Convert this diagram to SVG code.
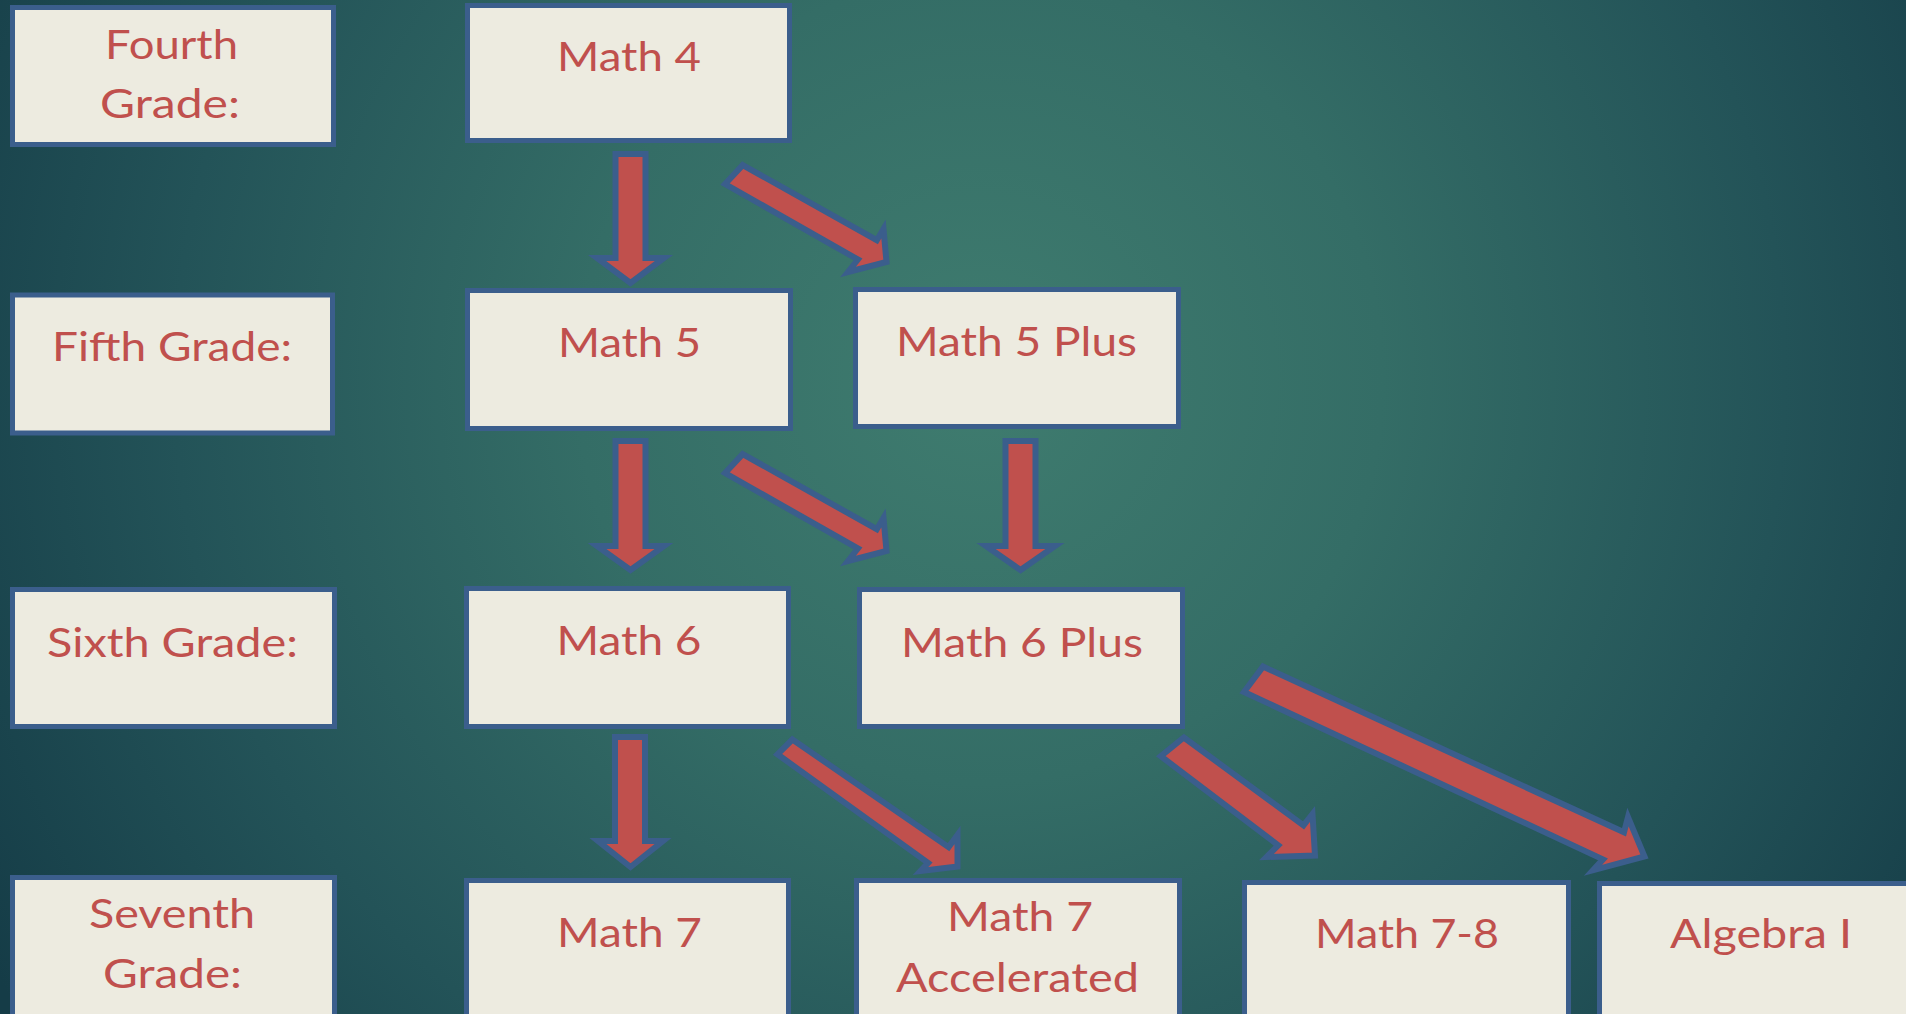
<svg xmlns="http://www.w3.org/2000/svg" width="1906" height="1014" viewBox="0 0 1906 1014">
<defs>
<radialGradient id="bg" gradientUnits="userSpaceOnUse" cx="980" cy="380" r="1150">
<stop offset="0" stop-color="#3F7C6F"/>
<stop offset="0.35" stop-color="#346D66"/>
<stop offset="0.7" stop-color="#235358"/>
<stop offset="1" stop-color="#153C47"/>
</radialGradient>
<style>
.box{fill:#EDEBE0;stroke:#3B5E8C;stroke-width:5}
.t{font-family:Lato,"Open Sans","Liberation Sans",sans-serif;font-size:40px;fill:#C0504D}
.arr{fill:#C0504D;stroke:#3B5E8C;stroke-width:6;stroke-linejoin:miter}
</style>
</defs>
<rect x="0" y="0" width="1906" height="1014" fill="url(#bg)"/>

<g id="connectors">
<polygon class="arr" points="615.5,154 645.5,154 645.5,258 664,258 630.5,283 597,258 615.5,258"/>
<polygon class="arr" points="742.7,165.1 876.8,240.2 883.5,229 886.5,262 848,272 857.9,259.5 725.1,184"/>
<polygon class="arr" points="615.5,441 645.5,441 645.5,546 664,546 630.5,570 597,546 615.5,546"/>
<polygon class="arr" points="742.7,454.1 876.8,529.2 883.5,518 886.5,551 848,561 857.9,548.5 725.1,473"/>
<polygon class="arr" points="1005.5,441 1035.5,441 1035.5,546 1055,546 1020.5,570 986,546 1005.5,546"/>
<polygon class="arr" points="615,737 645,737 645,841 663,841 630.5,867 598,841 615,841"/>
<polygon class="arr" points="792.4,739.5 948.6,847.1 957.5,835 957.5,866.5 920.5,871 928.1,862.9 777.5,754.3"/>
<polygon class="arr" points="1183.8,737.5 1303.5,825.3 1312.5,814 1315,855.5 1266.5,857 1278.2,845.3 1160.8,756.2"/>
<polygon class="arr" points="1263,666.6 1624,832.3 1628,817 1644.5,856.5 1593,870.3 1603,859.4 1244,692"/>
</g>

<g id="fourth-grade"><rect class="box" x="12.5" y="7.5" width="321" height="137"/>
<text class="t" x="105" y="59" textLength="133" lengthAdjust="spacingAndGlyphs">Fourth</text>
<text class="t" x="100" y="118" textLength="140" lengthAdjust="spacingAndGlyphs">Grade:</text></g>
<g id="math4"><rect class="box" x="467.5" y="5.5" width="322" height="135"/>
<text class="t" x="557" y="71" textLength="144" lengthAdjust="spacingAndGlyphs">Math 4</text></g>

<g id="fifth-grade"><rect class="box" x="12.5" y="295" width="320" height="138"/>
<text class="t" x="52" y="361" textLength="240" lengthAdjust="spacingAndGlyphs">Fifth Grade:</text></g>
<g id="math5"><rect class="box" x="467.5" y="290.5" width="323" height="138"/>
<text class="t" x="558" y="357" textLength="143" lengthAdjust="spacingAndGlyphs">Math 5</text></g>
<g id="math5plus"><rect class="box" x="855.5" y="289.5" width="323" height="137"/>
<text class="t" x="896" y="356" textLength="241" lengthAdjust="spacingAndGlyphs">Math 5 Plus</text></g>

<g id="sixth-grade"><rect class="box" x="12.5" y="589.5" width="322" height="137"/>
<text class="t" x="47" y="657" textLength="251" lengthAdjust="spacingAndGlyphs">Sixth Grade:</text></g>
<g id="math6"><rect class="box" x="466.5" y="588.5" width="322" height="138"/>
<text class="t" x="556.5" y="655" textLength="145" lengthAdjust="spacingAndGlyphs">Math 6</text></g>
<g id="math6plus"><rect class="box" x="859.5" y="589.5" width="323" height="137"/>
<text class="t" x="901" y="657" textLength="242" lengthAdjust="spacingAndGlyphs">Math 6 Plus</text></g>

<g id="seventh-grade"><rect class="box" x="12.5" y="877.5" width="322" height="200"/>
<text class="t" x="89" y="928" textLength="166" lengthAdjust="spacingAndGlyphs">Seventh</text>
<text class="t" x="103" y="988" textLength="139" lengthAdjust="spacingAndGlyphs">Grade:</text></g>
<g id="math7"><rect class="box" x="466.5" y="880.5" width="322" height="200"/>
<text class="t" x="557" y="947" textLength="145" lengthAdjust="spacingAndGlyphs">Math 7</text></g>
<g id="math7acc"><rect class="box" x="856.5" y="880.5" width="323" height="200"/>
<text class="t" x="947" y="931" textLength="146" lengthAdjust="spacingAndGlyphs">Math 7</text>
<text class="t" x="896" y="992" textLength="243" lengthAdjust="spacingAndGlyphs">Accelerated</text></g>
<g id="math78"><rect class="box" x="1244.5" y="882.5" width="324" height="200"/>
<text class="t" x="1315" y="948" textLength="184" lengthAdjust="spacingAndGlyphs">Math 7-8</text></g>
<g id="algebra1"><rect class="box" x="1599.5" y="883.5" width="400" height="200"/>
<text class="t" x="1670" y="948" textLength="182" lengthAdjust="spacingAndGlyphs">Algebra I</text></g>
</svg>
